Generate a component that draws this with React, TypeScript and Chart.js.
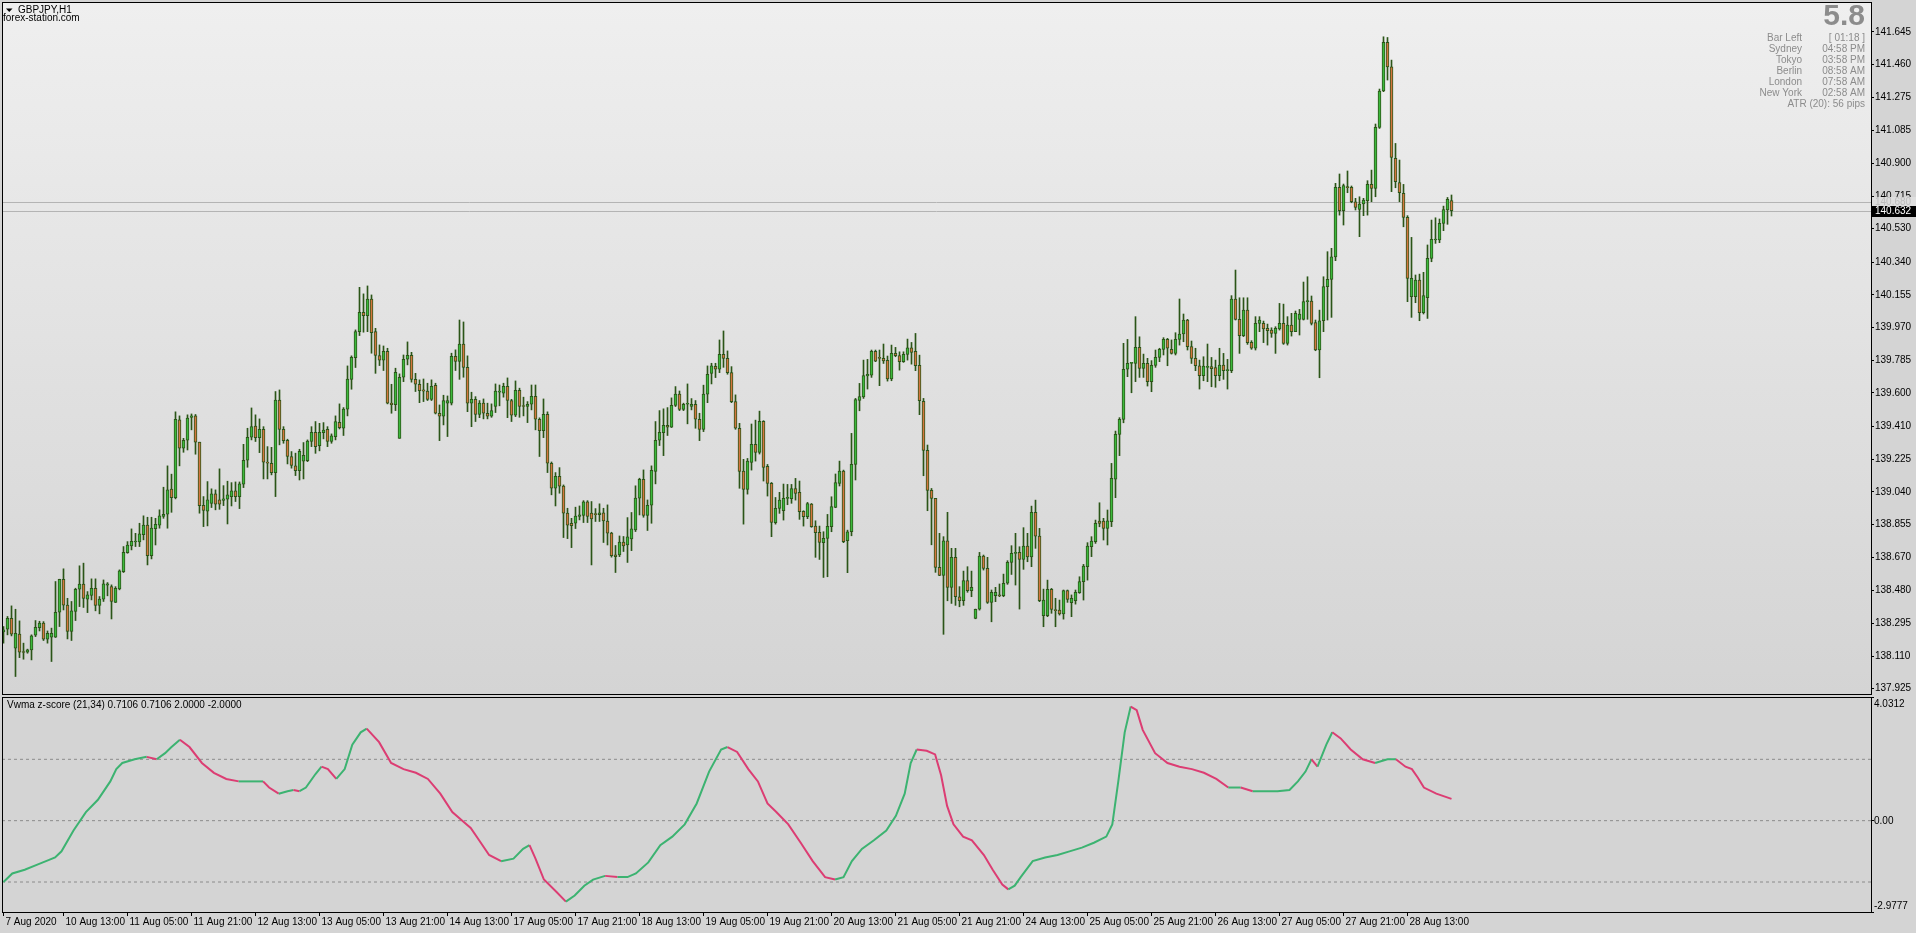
import React, { useEffect, useRef } from 'react';
import { Chart, registerables } from 'chart.js';

Chart.register(...registerables);

const FONT = "'Liberation Sans', Arial, sans-serif";
Chart.defaults.font.family = FONT;

// ---- price data (GBPJPY H1), one entry per bar ----
const OPEN = [
  138.247,138.262,138.324,138.154,138.234,138.135,138.132,138.145,138.228,138.271,
  138.296,138.205,138.217,138.217,138.358,138.545,138.398,138.249,138.362,138.488,
  138.517,138.432,138.453,138.494,138.396,138.432,138.511,138.503,138.413,138.490,
  138.588,138.696,138.734,138.756,138.756,138.798,138.851,138.679,138.832,138.851,
  138.900,138.913,139.055,139.007,139.447,139.287,139.332,139.462,139.470,139.321,
  138.964,138.930,138.975,139.028,138.994,138.992,138.998,139.013,139.045,139.013,
  139.083,139.219,139.349,139.413,139.347,139.394,139.208,139.202,139.149,139.560,
  139.394,139.332,139.240,139.187,139.160,139.213,139.217,139.325,139.377,139.302,
  139.375,139.394,139.325,139.353,139.434,139.400,139.508,139.677,139.800,139.947,
  140.057,140.038,140.131,139.947,139.812,139.785,139.836,139.542,139.534,139.343,
  139.689,139.791,139.813,139.677,139.649,139.617,139.610,139.564,139.643,139.485,
  139.468,139.542,139.542,139.808,139.778,139.876,139.745,139.542,139.564,139.479,
  139.542,139.485,139.468,139.523,139.604,139.598,139.638,139.557,139.474,139.615,
  139.527,139.523,139.536,139.581,139.451,139.387,139.479,139.202,139.060,139.128,
  139.072,138.919,138.862,138.862,138.900,138.907,138.983,138.919,138.915,138.911,
  138.921,138.875,138.806,138.683,138.683,138.755,138.739,138.773,138.824,139.004,
  139.111,138.906,138.964,139.155,139.332,139.375,139.417,139.406,139.530,139.593,
  139.506,139.536,139.523,139.536,139.451,139.394,139.593,139.710,139.751,139.734,
  139.819,139.796,139.715,139.551,139.400,139.158,139.054,139.207,139.309,139.263,
  139.439,139.184,139.088,138.865,138.946,138.933,139.003,139.001,139.059,139.037,
  138.929,138.899,138.971,138.846,138.810,138.752,138.776,138.842,138.952,139.088,
  139.158,138.763,138.814,139.195,139.558,139.578,139.697,139.701,139.835,139.801,
  139.796,139.784,139.679,139.824,139.811,139.777,139.818,139.856,139.835,139.756,
  139.552,139.275,139.048,139.003,138.612,138.567,138.763,138.499,138.669,138.446,
  138.423,138.537,138.480,138.323,138.376,138.676,138.606,138.414,138.452,138.456,
  138.452,138.522,138.640,138.691,138.697,138.657,138.733,138.672,138.924,138.789,
  138.338,138.338,138.488,138.370,138.370,138.348,138.480,138.412,138.423,138.469,
  138.531,138.616,138.729,138.757,138.874,138.874,138.833,138.871,139.111,139.365,
  139.450,139.734,139.767,139.767,139.858,139.739,139.767,139.664,139.756,139.801,
  139.847,139.903,139.847,139.824,139.903,139.934,140.013,139.862,139.796,139.754,
  139.698,139.745,139.749,139.743,139.698,139.758,139.726,139.726,140.132,140.017,
  139.924,140.069,139.887,139.853,139.994,139.994,139.966,139.956,139.937,139.962,
  139.994,139.881,139.985,139.947,140.017,140.017,140.117,140.120,139.998,139.843,
  140.009,140.202,140.243,140.371,140.764,140.632,140.768,140.764,140.683,140.640,
  140.670,140.689,140.781,140.758,141.104,141.310,141.585,141.447,140.928,140.792,
  140.730,140.594,140.145,140.145,140.239,140.054,140.139,140.362,140.466,140.466,
  140.560,140.636,140.690,
];
const HIGH = [
  138.277,138.334,138.394,138.375,138.309,138.183,138.149,138.230,138.311,138.307,
  138.305,138.252,138.268,138.532,138.545,138.604,138.437,138.419,138.494,138.621,
  138.636,138.475,138.547,138.547,138.447,138.541,138.526,138.513,138.503,138.598,
  138.730,138.758,138.830,138.805,138.862,138.904,138.896,138.896,138.890,138.938,
  139.066,139.187,139.140,139.493,139.470,139.343,139.476,139.481,139.478,139.321,
  139.013,139.098,139.057,139.051,139.170,139.075,139.100,139.092,139.096,139.096,
  139.309,139.400,139.515,139.476,139.453,139.409,139.296,139.292,139.608,139.617,
  139.409,139.338,139.268,139.259,139.281,139.319,139.334,139.409,139.438,139.428,
  139.432,139.409,139.368,139.470,139.538,139.517,139.753,139.810,139.957,140.198,
  140.161,140.206,140.155,139.966,139.872,139.866,139.853,139.649,139.740,139.708,
  139.815,139.889,139.830,139.711,139.674,139.679,139.655,139.674,139.655,139.532,
  139.587,139.583,139.825,139.844,140.013,140.002,139.810,139.604,139.579,139.557,
  139.566,139.542,139.538,139.651,139.645,139.655,139.685,139.564,139.668,139.627,
  139.576,139.551,139.645,139.645,139.459,139.566,139.493,139.209,139.149,139.177,
  139.079,138.947,138.890,138.953,138.960,138.990,138.990,138.985,138.945,138.972,
  138.947,138.966,138.811,138.736,138.790,138.787,138.894,138.923,139.074,139.117,
  139.164,138.994,139.187,139.438,139.500,139.510,139.517,139.572,139.636,139.611,
  139.542,139.651,139.568,139.557,139.485,139.644,139.753,139.768,139.768,139.900,
  139.951,139.838,139.749,139.589,139.428,139.224,139.229,139.424,139.446,139.497,
  139.443,139.195,139.093,139.008,139.037,139.084,139.082,139.082,139.116,139.101,
  138.933,138.980,138.974,138.876,138.846,138.814,138.912,139.012,139.141,139.214,
  139.163,138.823,139.371,139.569,139.654,139.786,139.790,139.843,139.843,139.843,
  139.877,139.809,139.871,139.858,139.833,139.833,139.905,139.886,139.937,139.814,
  139.569,139.305,139.059,139.003,138.805,138.786,138.924,138.720,138.720,138.503,
  138.591,138.616,138.591,138.376,138.697,138.682,138.669,138.484,138.499,138.518,
  138.574,138.650,138.735,138.805,138.729,138.837,138.805,138.959,138.993,138.833,
  138.489,138.540,138.493,138.437,138.427,138.484,138.484,138.456,138.484,138.559,
  138.629,138.752,138.786,138.880,138.978,138.890,138.937,139.201,139.384,139.460,
  139.881,139.903,139.771,140.032,139.918,139.820,139.796,139.783,139.843,139.853,
  139.913,139.909,139.900,139.941,140.132,140.047,140.017,139.894,139.853,139.786,
  139.805,139.877,139.801,139.786,139.853,139.824,139.790,140.151,140.296,140.139,
  140.139,140.139,139.896,140.032,140.032,140.007,139.990,139.969,139.975,140.107,
  140.103,140.032,140.051,140.064,140.073,140.228,140.258,140.149,140.013,140.069,
  140.258,140.400,140.419,140.787,140.840,140.783,140.857,140.772,140.702,140.711,
  140.702,140.802,140.862,141.123,141.321,141.617,141.613,141.485,141.013,140.919,
  140.781,140.604,140.481,140.268,140.273,140.283,140.438,140.579,140.592,140.585,
  140.658,140.707,140.721,
];
const LOW = [
  138.183,138.230,138.224,137.994,138.101,138.092,138.126,138.088,138.220,138.252,
  138.198,138.183,138.079,138.215,138.277,138.371,138.207,138.198,138.311,138.390,
  138.385,138.356,138.428,138.366,138.349,138.419,138.451,138.320,138.413,138.485,
  138.583,138.692,138.711,138.730,138.730,138.768,138.626,138.660,138.739,138.834,
  138.890,138.834,138.924,139.000,139.187,139.264,139.277,139.391,139.253,138.919,
  138.843,138.847,138.951,138.938,138.941,138.962,138.858,138.960,138.985,138.945,
  139.064,139.179,139.334,139.325,139.262,139.113,139.113,139.136,139.013,139.306,
  139.315,139.198,139.174,139.132,139.107,139.113,139.211,139.296,139.258,139.272,
  139.340,139.296,139.315,139.334,139.396,139.359,139.470,139.621,139.744,139.925,
  139.944,139.947,139.825,139.711,139.755,139.727,139.538,139.485,139.500,139.343,
  139.664,139.759,139.661,139.608,139.545,139.551,139.557,139.557,139.481,139.330,
  139.419,139.353,139.532,139.727,139.677,139.689,139.494,139.409,139.438,139.460,
  139.453,139.453,139.462,139.489,139.527,139.576,139.460,139.438,139.466,139.462,
  139.470,139.432,139.504,139.391,139.240,139.347,139.149,139.023,138.960,139.032,
  138.781,138.775,138.724,138.832,138.881,138.866,138.866,138.626,138.872,138.872,
  138.753,138.739,138.670,138.583,138.673,138.702,138.640,138.707,138.815,138.909,
  138.896,138.821,138.862,139.085,139.302,139.245,139.359,139.404,139.523,139.500,
  139.500,139.425,139.504,139.400,139.330,139.381,139.545,139.651,139.687,139.715,
  139.745,139.706,139.545,139.394,139.060,138.857,139.027,139.163,139.214,139.254,
  139.101,139.016,138.786,138.857,138.918,138.880,138.967,138.975,138.993,138.884,
  138.846,138.888,138.839,138.669,138.657,138.555,138.559,138.814,138.950,139.073,
  138.752,138.582,138.791,139.107,139.499,139.569,139.622,139.688,139.777,139.641,
  139.767,139.667,139.669,139.805,139.729,139.773,139.786,139.763,139.726,139.477,
  139.131,138.933,138.740,138.584,138.565,138.233,138.423,138.408,138.397,138.389,
  138.397,138.471,138.446,138.321,138.370,138.597,138.408,138.304,138.418,138.446,
  138.446,138.516,138.572,138.512,138.376,138.601,138.644,138.616,138.720,138.418,
  138.276,138.333,138.352,138.276,138.342,138.319,138.414,138.333,138.404,138.465,
  138.427,138.540,138.673,138.748,138.842,138.767,138.739,138.843,139.007,139.245,
  139.431,139.692,139.601,139.664,139.688,139.688,139.639,139.607,139.745,139.777,
  139.815,139.754,139.820,139.815,139.871,139.890,139.843,139.767,139.726,139.622,
  139.669,139.664,139.635,139.632,139.669,139.677,139.622,139.715,140.013,139.824,
  139.919,139.875,139.847,139.843,139.947,139.885,139.871,139.915,139.824,139.956,
  139.875,139.871,139.922,139.947,139.928,140.013,140.017,139.985,139.839,139.686,
  139.947,140.013,140.028,140.349,140.607,140.551,140.734,140.677,140.636,140.485,
  140.604,140.607,140.683,140.711,141.098,141.306,141.372,140.740,140.762,140.683,
  140.541,140.117,140.028,140.111,140.009,140.047,140.022,140.343,140.447,140.451,
  140.519,140.555,140.602,
];
const CLOSE = [
  138.258,138.324,138.234,138.239,138.132,138.130,138.145,138.224,138.273,138.296,
  138.205,138.239,138.239,138.358,138.545,138.398,138.249,138.366,138.488,138.517,
  138.437,138.456,138.494,138.396,138.432,138.519,138.519,138.419,138.494,138.592,
  138.698,138.738,138.760,138.760,138.802,138.851,138.679,138.834,138.856,138.904,
  138.913,139.051,139.007,139.451,139.287,139.332,139.457,139.470,139.321,138.962,
  138.934,138.994,139.028,138.970,138.970,139.000,139.023,139.045,139.013,139.085,
  139.219,139.349,139.409,139.347,139.394,139.208,139.202,139.149,139.560,139.394,
  139.330,139.240,139.189,139.160,139.270,139.247,139.328,139.377,139.296,139.377,
  139.389,139.325,139.357,139.438,139.404,139.508,139.679,139.802,139.947,140.057,
  140.038,140.131,139.942,139.812,139.785,139.836,139.542,139.534,139.717,139.689,
  139.791,139.813,139.677,139.649,139.613,139.610,139.564,139.638,139.485,139.468,
  139.557,139.557,139.808,139.778,139.876,139.745,139.542,139.564,139.479,139.542,
  139.485,139.468,139.500,139.611,139.610,139.638,139.557,139.474,139.615,139.523,
  139.523,139.536,139.581,139.451,139.387,139.479,139.202,139.060,139.128,139.072,
  138.919,138.851,138.849,138.902,138.909,138.983,138.900,138.887,138.911,138.921,
  138.875,138.806,138.679,138.673,138.755,138.734,138.785,138.830,139.004,139.111,
  138.906,138.964,139.162,139.332,139.377,139.417,139.406,139.530,139.593,139.506,
  139.536,139.538,139.536,139.451,139.394,139.593,139.706,139.753,139.734,139.819,
  139.796,139.715,139.551,139.400,139.155,139.054,139.214,139.309,139.263,139.439,
  139.178,139.088,138.867,138.946,138.993,139.003,139.005,139.059,139.031,138.927,
  138.899,138.974,138.842,138.808,138.754,138.776,138.844,138.956,139.093,139.158,
  138.757,138.814,139.195,139.563,139.580,139.699,139.705,139.835,139.780,139.796,
  139.782,139.679,139.824,139.811,139.777,139.818,139.856,139.830,139.754,139.556,
  139.275,139.048,139.003,138.612,138.567,138.763,138.499,138.669,138.446,138.423,
  138.537,138.480,138.499,138.374,138.676,138.606,138.414,138.471,138.471,138.450,
  138.522,138.640,138.691,138.697,138.657,138.733,138.672,138.924,138.789,138.423,
  138.427,138.488,138.374,138.367,138.348,138.480,138.431,138.437,138.471,138.531,
  138.620,138.733,138.761,138.861,138.861,138.833,138.876,139.116,139.365,139.450,
  139.734,139.767,139.771,139.858,139.739,139.767,139.664,139.756,139.801,139.847,
  139.903,139.853,139.824,139.903,139.934,140.013,139.862,139.796,139.754,139.698,
  139.752,139.749,139.737,139.698,139.758,139.726,139.730,140.132,140.017,139.924,
  140.069,139.885,139.853,139.994,140.013,139.962,139.953,139.937,139.966,139.994,
  139.881,139.985,139.947,140.051,140.047,140.117,140.120,139.994,139.843,140.009,
  140.202,140.243,140.371,140.764,140.632,140.774,140.762,140.683,140.651,140.670,
  140.692,140.781,140.758,141.104,141.310,141.585,141.447,140.934,140.796,140.734,
  140.594,140.249,140.249,140.239,140.054,140.151,140.362,140.470,140.472,140.560,
  140.639,140.696,140.632,
];

const PRICE_TICKS = [
  141.645, 141.46, 141.275, 141.085, 140.9, 140.715, 140.53, 140.34, 140.155, 139.97,
  139.785, 139.6, 139.41, 139.225, 139.04, 138.855, 138.67, 138.48, 138.295, 138.11, 137.925,
];
const BID = 140.632;
const ASK = 140.68;

const TIME_TICK_BARS = [0, 15, 31, 47, 63, 79, 95, 111, 127, 143, 159, 175, 191, 207, 223, 239, 255, 271, 287, 303, 319, 335, 351];
const TIME_LABELS = [
  '7 Aug 2020', '10 Aug 13:00', '11 Aug 05:00', '11 Aug 21:00', '12 Aug 13:00', '13 Aug 05:00',
  '13 Aug 21:00', '14 Aug 13:00', '17 Aug 05:00', '17 Aug 21:00', '18 Aug 13:00', '19 Aug 05:00',
  '19 Aug 21:00', '20 Aug 13:00', '21 Aug 05:00', '21 Aug 21:00', '24 Aug 13:00', '25 Aug 05:00',
  '25 Aug 21:00', '26 Aug 13:00', '27 Aug 05:00', '27 Aug 21:00', '28 Aug 13:00',
];

// ---- Vwma z-score indicator (bar index, value) ----
const Z_BARS = [
  0, 2.2, 5.3, 8.3, 11.4, 12.9, 14.5, 17.5, 20.6, 23.6, 26.7, 28.2, 29.7, 32.8, 35.8, 38.3, 40.4, 42, 44.1,
  46.5, 49.6, 52.6, 55.7, 58.8, 61.8, 64.9, 66.4, 68.8, 71, 72.5, 74, 75.6, 78, 79.5, 81.1, 83.2, 85.3,
  87.2, 89.3, 90.8, 93.9, 96.9, 100, 103.1, 106.1, 109.2, 112.2, 114.7, 116.8, 118.9, 121.4, 124.4, 127.5,
  129.9, 131.5, 133, 135.1, 138.2, 140.6, 142.8, 145.2, 147.4, 150.4, 153.5, 156, 158.1, 161.2, 164.2,
  167.2, 170.3, 173.3, 176.4, 179.4, 181, 183.4, 186.2, 188.6, 191, 193.2, 196.2, 199.3, 202.3, 205.4,
  207.9, 210, 212.1, 214.6, 217.6, 220.7, 223.1, 225.3, 226.8, 228.3, 230.8, 232.9, 234.4, 235.9, 237.5,
  239.9, 242.1, 245.1, 247.3, 249.7, 251.2, 252.8, 254.3, 257.3, 260.4, 263.5, 266.5, 269.6, 272.6, 275.7,
  277.2, 278.7, 280.3, 281.8, 283.3, 284.8, 287.9, 291, 294, 297.1, 300.1, 303.2, 306.2, 309.3, 312.3,
  315.4, 318.5, 321.5, 323.6, 325.5, 327, 328.5, 330.7, 332.2, 334.3, 336.8, 339.8, 342.9, 346, 348.1,
  350.5, 352.1, 353.6, 355.1, 358.2, 362,
];
const Z_VALUES = [
  -2.0, -1.72, -1.6, -1.44, -1.28, -1.2, -1.0, -0.32, 0.28, 0.68, 1.28, 1.68, 1.88, 2.0, 2.08, 2.0, 2.2, 2.4, 2.64,
  2.4, 1.88, 1.56, 1.36, 1.28, 1.28, 1.28, 1.08, 0.88, 0.96, 1.0, 0.96, 1.08, 1.52, 1.76, 1.68, 1.36, 1.68,
  2.48, 2.88, 3.0, 2.56, 1.88, 1.68, 1.56, 1.36, 0.88, 0.28, 0.0, -0.24, -0.64, -1.12, -1.32, -1.24,
  -0.92, -0.8, -1.24, -1.92, -2.32, -2.64, -2.44, -2.12, -1.92, -1.8, -1.84, -1.84, -1.72, -1.36, -0.8,
  -0.52, -0.12, 0.56, 1.6, 2.32, 2.4, 2.24, 1.68, 1.28, 0.56, 0.28, -0.12, -0.72, -1.32, -1.84,
  -1.92, -1.84, -1.32, -0.92, -0.64, -0.32, 0.16, 0.88, 1.88, 2.32, 2.28, 2.16, 1.48, 0.48, -0.12,
  -0.52, -0.64, -1.12, -1.6, -2.08, -2.24, -2.12, -1.84, -1.32, -1.2, -1.12, -1.0, -0.88, -0.72, -0.52,
  -0.12, 1.28, 2.88, 3.72, 3.6, 2.96, 2.2, 1.88, 1.76, 1.68, 1.56, 1.36, 1.08, 1.08, 0.96,
  0.96, 0.96, 1.0, 1.28, 1.6, 2.0, 1.76, 2.48, 2.88, 2.68, 2.32, 2.0, 1.88, 2.0, 2.0,
  1.76, 1.68, 1.4, 1.08, 0.88, 0.7106,
];
const Z_LEVELS = [2, 0, -2];
const Z_MIN = -2.9777;
const Z_MAX = 4.0312;

const X_MIN = -0.375;
const X_MAX = 466.875;

const BG = '#D4D4D4';
const BULL = '#3CB93C';
const BEAR = '#D4763F';
const OUTLINE = '#2B5518';
const Z_UP = '#3CB371';
const Z_DOWN = '#DC3D73';

const noPad = (s: any) => {
  s.paddingTop = 0;
  s.paddingBottom = 0;
  s.paddingLeft = 0;
  s.paddingRight = 0;
};

const mainPlugin = {
  id: 'mainDeco',
  beforeDraw(chart: any) {
    const { ctx, chartArea: a } = chart;
    ctx.save();
    ctx.fillStyle = BG;
    ctx.fillRect(0, 0, chart.width, chart.height);
    const g = ctx.createLinearGradient(0, a.top, 0, a.bottom);
    g.addColorStop(0, '#EFEFEF');
    g.addColorStop(1, '#D4D4D4');
    ctx.fillStyle = g;
    ctx.fillRect(a.left, a.top, a.right - a.left, a.bottom - a.top);
    ctx.restore();
  },
  beforeDatasetsDraw(chart: any) {
    const { ctx, chartArea: a, scales } = chart;
    ctx.save();
    ctx.strokeStyle = '#B4B4B4';
    ctx.lineWidth = 1;
    [ASK, BID].forEach((p) => {
      const y = Math.round(scales.y.getPixelForValue(p)) + 0.5;
      ctx.beginPath();
      ctx.moveTo(a.left, y);
      ctx.lineTo(a.right, y);
      ctx.stroke();
    });
    ctx.restore();
  },
  afterDraw(chart: any) {
    const { ctx, chartArea: a, scales } = chart;
    ctx.save();
    ctx.strokeStyle = '#000';
    ctx.lineWidth = 1;
    ctx.strokeRect(a.left + 0.5, a.top + 0.5, a.right - a.left, a.bottom - a.top);

    // price boxes on the axis
    const ya = scales.y.getPixelForValue(ASK);
    const yb = scales.y.getPixelForValue(BID);
    ctx.font = `10px ${FONT}`;
    ctx.textBaseline = 'middle';
    ctx.textAlign = 'left';
    ctx.fillStyle = '#DEDEDE';
    ctx.fillRect(a.right + 1, Math.round(ya) - 5, 45, 11);
    ctx.fillStyle = '#BDBDBD';
    ctx.fillText(ASK.toFixed(3), a.right + 4, Math.round(ya) + 0.5);
    ctx.fillStyle = '#000';
    ctx.fillRect(a.right + 1, Math.round(yb) - 5, 45, 11);
    ctx.fillStyle = '#FFF';
    ctx.fillText(BID.toFixed(3), a.right + 4, Math.round(yb) + 0.5);

    // title
    ctx.fillStyle = '#000';
    ctx.beginPath();
    ctx.moveTo(6, 8.5);
    ctx.lineTo(12.5, 8.5);
    ctx.lineTo(9.25, 12);
    ctx.closePath();
    ctx.fill();
    ctx.fillText('GBPJPY,H1', 18, 10.5);
    ctx.fillText('forex-station.com', 3, 18.5);

    // info panel
    ctx.fillStyle = '#8C8C8C';
    ctx.font = `bold 30px ${FONT}`;
    ctx.textAlign = 'right';
    ctx.fillText('5.8', 1865, 17);
    ctx.font = `10px ${FONT}`;
    const names = ['Bar Left', 'Sydney', 'Tokyo', 'Berlin', 'London', 'New York'];
    const vals = ['[ 01:18 ]', '04:58 PM', '03:58 PM', '08:58 AM', '07:58 AM', '02:58 AM'];
    names.forEach((n, k) => {
      const y = 38 + k * 11;
      ctx.fillText(n, 1802, y);
      ctx.fillText(vals[k], 1865, y);
    });
    ctx.fillText('ATR (20): 56 pips', 1865, 104.5);
    ctx.restore();
  },
};

const subPlugin = {
  id: 'subDeco',
  beforeDraw(chart: any) {
    const { ctx } = chart;
    ctx.save();
    ctx.fillStyle = BG;
    ctx.fillRect(0, 0, chart.width, chart.height);
    ctx.restore();
  },
  afterDraw(chart: any) {
    const { ctx, chartArea: a, scales } = chart;
    ctx.save();
    ctx.strokeStyle = '#000';
    ctx.lineWidth = 1;
    ctx.strokeRect(a.left + 0.5, a.top + 0.5, a.right - a.left, a.bottom - a.top);
    ctx.font = `10px ${FONT}`;
    ctx.textBaseline = 'middle';
    ctx.textAlign = 'left';
    ctx.fillStyle = '#000';
    ctx.fillText('Vwma z-score (21,34) 0.7106 0.7106 2.0000 -2.0000', 7, a.top + 8);
    const y = scales.y;
    ctx.fillText(Z_MAX.toFixed(4), a.right + 3, y.getPixelForValue(Z_MAX) + 7);
    ctx.fillText('0.00', a.right + 3, y.getPixelForValue(0) + 0.5);
    ctx.fillText(Z_MIN.toFixed(4), a.right + 3, y.getPixelForValue(Z_MIN) - 6);
    ctx.restore();
  },
};

export default function App() {
  const mainRef = useRef<HTMLCanvasElement>(null);
  const subRef = useRef<HTMLCanvasElement>(null);

  useEffect(() => {
    const bars = OPEN.map((_, i) => i);
    const main = new Chart(mainRef.current as HTMLCanvasElement, {
      type: 'bar',
      data: {
        datasets: [
          {
            label: 'wick',
            data: bars.map((i) => ({ x: i, y: [LOW[i], HIGH[i]] })) as any,
            backgroundColor: OUTLINE,
            borderWidth: 0,
            barThickness: 1,
            grouped: false,
            order: 2,
          } as any,
          {
            label: 'body',
            data: bars.map((i) => ({ x: i, y: [OPEN[i], CLOSE[i]] })) as any,
            backgroundColor: bars.map((i) => (CLOSE[i] >= OPEN[i] ? BULL : BEAR)),
            borderColor: OUTLINE,
            borderWidth: 1,
            borderSkipped: false,
            barThickness: 3,
            minBarLength: 1,
            grouped: false,
            order: 1,
          } as any,
        ],
      },
      options: {
        animation: false,
        responsive: false,
        devicePixelRatio: 1,
        events: [],
        layout: { padding: { left: 2, top: 2, bottom: 2, right: 0 } },
        plugins: { legend: { display: false }, tooltip: { enabled: false } },
        scales: {
          x: { type: 'linear', min: X_MIN, max: X_MAX, display: false, offset: false },
          y: {
            type: 'linear',
            position: 'right',
            min: 137.895,
            max: 141.814,
            afterBuildTicks: (s: any) => {
              s.ticks = PRICE_TICKS.map((v) => ({ value: v }));
            },
            afterFit: (s: any) => {
              s.width = 45;
              noPad(s);
            },
            ticks: {
              autoSkip: false,
              callback: (v: any) => Number(v).toFixed(3),
              font: { family: FONT, size: 10 },
              color: '#000',
              padding: 1,
            },
            grid: { drawOnChartArea: false, drawTicks: true, tickLength: 3, color: '#000' },
            border: { display: true, color: '#000' },
          },
        },
      } as any,
      plugins: [mainPlugin],
    });

    const sub = new Chart(subRef.current as HTMLCanvasElement, {
      type: 'line',
      data: {
        datasets: [
          {
            label: 'zscore',
            data: Z_BARS.map((x, k) => ({ x, y: Z_VALUES[k] })),
            borderColor: Z_UP,
            borderWidth: 2,
            pointRadius: 0,
            tension: 0,
            order: 1,
            segment: {
              borderColor: (c: any) => (c.p1.parsed.y >= c.p0.parsed.y ? Z_UP : Z_DOWN),
            },
          } as any,
          ...Z_LEVELS.map((lv) => ({
            label: 'level ' + lv,
            data: [
              { x: X_MIN, y: lv },
              { x: X_MAX, y: lv },
            ],
            borderColor: '#8C8C8C',
            borderWidth: 1,
            borderDash: [3, 3],
            pointRadius: 0,
            order: 2,
          })),
        ],
      },
      options: {
        animation: false,
        responsive: false,
        devicePixelRatio: 1,
        events: [],
        layout: { padding: { left: 2, top: 1, bottom: 0, right: 0 } },
        plugins: { legend: { display: false }, tooltip: { enabled: false } },
        scales: {
          x: {
            type: 'linear',
            min: X_MIN,
            max: X_MAX,
            offset: false,
            afterBuildTicks: (s: any) => {
              s.ticks = TIME_TICK_BARS.map((v) => ({ value: v }));
            },
            afterFit: (s: any) => {
              s.height = 21;
              noPad(s);
            },
            ticks: {
              autoSkip: false,
              maxRotation: 0,
              minRotation: 0,
              align: 'start',
              labelOffset: 2,
              padding: 0,
              callback: (_v: any, idx: number) => TIME_LABELS[idx],
              font: { family: FONT, size: 10 },
              color: '#000',
            },
            grid: { drawOnChartArea: false, drawTicks: true, tickLength: 4, color: '#000' },
            border: { display: true, color: '#000' },
          },
          y: {
            type: 'linear',
            position: 'right',
            min: Z_MIN,
            max: Z_MAX,
            afterBuildTicks: (s: any) => {
              s.ticks = [Z_MAX, 0, Z_MIN].map((v) => ({ value: v }));
            },
            afterFit: (s: any) => {
              s.width = 45;
              noPad(s);
            },
            ticks: { autoSkip: false, color: 'rgba(0,0,0,0)', font: { family: FONT, size: 10 } },
            grid: { drawOnChartArea: false, drawTicks: true, tickLength: 3, color: '#000' },
            border: { display: true, color: '#000' },
          },
        },
      } as any,
      plugins: [subPlugin],
    });

    return () => {
      main.destroy();
      sub.destroy();
    };
  }, []);

  return (
    <div
      style={{
        position: 'absolute',
        left: 0,
        top: 0,
        width: 1916,
        height: 933,
        background: BG,
        overflow: 'hidden',
      }}
    >
      <canvas ref={mainRef} width={1916} height={696} style={{ position: 'absolute', left: 0, top: 0 }} />
      <canvas ref={subRef} width={1916} height={237} style={{ position: 'absolute', left: 0, top: 696 }} />
    </div>
  );
}
